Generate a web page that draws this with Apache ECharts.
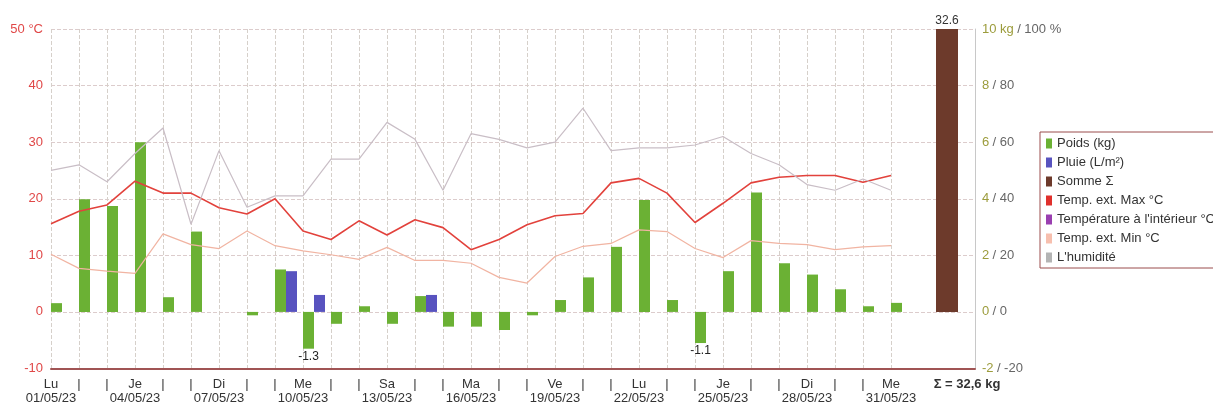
<!DOCTYPE html>
<html>
<head>
<meta charset="utf-8">
<script src="https://cdn.jsdelivr.net/npm/echarts@6/dist/echarts.min.js"></script>
<style>
html, body {margin:0; padding:0; background:#fff;}
#chart {width:1213px; height:405px;}
</style>
</head>
<body>
<div id="chart"></div>
<script>
var dates = ['01/05/23','02/05/23','03/05/23','04/05/23','05/05/23','06/05/23','07/05/23','08/05/23',
    '09/05/23','10/05/23','11/05/23','12/05/23','13/05/23','14/05/23','15/05/23','16/05/23',
    '17/05/23','18/05/23','19/05/23','20/05/23','21/05/23','22/05/23','23/05/23','24/05/23',
    '25/05/23','26/05/23','27/05/23','28/05/23','29/05/23','30/05/23','31/05/23'];
var jours = ['Lu','Ma','Me','Je','Ve','Sa','Di'];

// kg
var poids = [0.31, 3.98, 3.74, 6.0, 0.52, 2.84, 0, -0.12, 1.5, -1.3, -0.42, 0.2, -0.42, 0.56, -0.52, -0.52,
    -0.64, -0.12, 0.42, 1.22, 2.3, 3.96, 0.42, -1.1, 1.44, 4.22, 1.72, 1.32, 0.8, 0.2, 0.32];
var pluie = [null, null, null, null, null, null, null, null, 1.44, 0.6, null, null, null, 0.6, null, null,
    null, null, null, null, null, null, null, null, null, null, null, null, null, null, null];
var somme = 32.6;
// °C
var tempMax = [15.6, 17.8, 18.9, 23.1, 21.0, 21.0, 18.4, 17.3, 20.0, 14.3, 12.8, 16.1, 13.6, 16.3, 14.9, 11.0,
    12.8, 15.4, 17.0, 17.4, 22.8, 23.6, 21.0, 15.8, 19.2, 22.8, 23.8, 24.1, 24.1, 22.9, 24.1];
var tempMin = [10.2, 7.7, 7.2, 6.8, 13.8, 11.9, 11.2, 14.3, 11.7, 10.8, 10.1, 9.3, 11.4, 9.1, 9.1, 8.6,
    6.1, 5.1, 9.8, 11.6, 12.1, 14.5, 14.2, 11.2, 9.6, 12.6, 12.1, 11.9, 11.0, 11.5, 11.7];
var tempInt = [];
// %
var humidite = [50, 52, 46, 56, 65, 31, 57, 37, 41, 41, 54, 54, 67, 61, 43, 63,
    61, 58, 60, 72, 57, 58, 58, 59, 62, 56, 52, 45, 43, 47, 43];

var categories = dates.concat(['', 'S', '']);
var kgMax = 10;
var sommeData = categories.map(function (c) { return c === 'S' ? Math.min(somme, kgMax) : null; });
var sommeTxt = String(somme).replace('.', ',');

var font = 'Liberation Sans, Arial, sans-serif';
var chart = echarts.init(document.getElementById('chart'));

var option = {
    animation: false,
    textStyle: {fontFamily: font},
    grid: {left: 51, right: 238, top: 29, bottom: 31},
    legend: {
        orient: 'vertical',
        left: 1040,
        top: 132,
        icon: 'rect',
        itemWidth: 6,
        itemHeight: 10,
        itemGap: 6,
        padding: [5, 40, 4, 6],
        borderColor: '#9a4c4c',
        borderWidth: 1,
        selectedMode: false,
        textStyle: {fontSize: 13, color: '#333', fontFamily: font},
        data: ['Poids (kg)', 'Pluie (L/m²)', 'Somme Σ', 'Temp. ext. Max °C',
            'Température à l\'intérieur °C', 'Temp. ext. Min °C', 'L\'humidité']
    },
    xAxis: [{
        type: 'category',
        data: categories,
        boundaryGap: false,
        axisLine: {onZero: false, lineStyle: {color: '#a05454', width: 2}},
        axisTick: {show: false},
        splitLine: {
            show: true,
            interval: function (i) { return i <= 30; },
            lineStyle: {color: '#d6d0ca', type: 'dashed'}
        },
        axisLabel: {
            interval: 0,
            margin: 9,
            color: '#333',
            formatter: function (v, i) {
                if (i < 31) {
                    return i % 3 === 0 ? '{j|' + jours[i % 7] + '}\n{j|' + v + '}' : '{j||}';
                }
                if (v === 'S') return '{s|Σ = ' + sommeTxt + ' kg}';
                return '';
            },
            rich: {
                j: {fontSize: 13, lineHeight: 14, color: '#333', fontFamily: font},
                s: {fontSize: 13, lineHeight: 14, fontWeight: 'bold', color: '#333', padding: [0, 0, 0, 40], fontFamily: font}
            }
        }
    }, {
        type: 'category',
        data: categories,
        boundaryGap: false,
        show: false
    }],
    yAxis: [{
        type: 'value',
        position: 'left',
        min: -10,
        max: 50,
        interval: 10,
        axisLine: {show: false},
        axisTick: {show: false},
        axisLabel: {
            color: '#e04848',
            fontSize: 13,
            margin: 8,
            formatter: function (v) { return v === 50 ? '50 °C' : v; }
        },
        splitLine: {lineStyle: {color: '#dccccc', type: 'dashed'}}
    }, {
        type: 'value',
        position: 'right',
        min: -2,
        max: kgMax,
        interval: 2,
        axisLine: {show: true, lineStyle: {color: '#c8c8c8'}},
        axisTick: {show: false},
        splitLine: {show: false},
        axisLabel: {
            margin: 7,
            formatter: function (v) {
                return v === kgMax ? '{k|' + v + ' kg} {p|/ ' + v * 10 + ' %}' : '{k|' + v + '} {p|/ ' + v * 10 + '}';
            },
            rich: {
                k: {color: '#9c9c3c', fontSize: 13, fontFamily: font},
                p: {color: '#666', fontSize: 13, fontFamily: font}
            }
        }
    }, {
        type: 'value',
        show: false,
        min: -20,
        max: 100,
        interval: 20
    }],
    series: [
        {name: 'pad1', type: 'bar', yAxisIndex: 1, data: [], barWidth: 11, barGap: '0%'},
        {name: 'pad2', type: 'bar', yAxisIndex: 1, data: [], barWidth: 11, barGap: '0%'},
        {
            name: 'Poids (kg)', type: 'bar', yAxisIndex: 1, data: poids, barWidth: 11, barGap: '0%',
            itemStyle: {color: '#6bb134'},
            label: {
                show: true, position: 'bottom', distance: 2, color: '#222', fontSize: 12,
                formatter: function (p) { return p.value < -1 ? String(p.value) : ''; }
            }
        },
        {
            name: 'Pluie (L/m²)', type: 'bar', yAxisIndex: 1, data: pluie, barWidth: 11, barGap: '0%',
            itemStyle: {color: '#5853bf'}
        },
        {
            name: 'Somme Σ', type: 'bar', xAxisIndex: 1, yAxisIndex: 1, data: sommeData, barWidth: 22,
            itemStyle: {color: '#6d3a2b'},
            label: {
                show: true, position: 'top', distance: 2, color: '#333', fontSize: 12,
                formatter: function () { return String(somme); }
            }
        },
        {
            name: 'Temp. ext. Max °C', type: 'line', yAxisIndex: 0, data: tempMax, showSymbol: false,
            itemStyle: {color: '#e0302c'}, lineStyle: {color: '#e2423c', width: 1.6}
        },
        {
            name: 'Température à l\'intérieur °C', type: 'line', yAxisIndex: 0, data: tempInt, showSymbol: false,
            itemStyle: {color: '#9a3fb0'}, lineStyle: {color: '#9a3fb0', width: 1.2}
        },
        {
            name: 'Temp. ext. Min °C', type: 'line', yAxisIndex: 0, data: tempMin, showSymbol: false,
            itemStyle: {color: '#f7bfae'}, lineStyle: {color: '#f1b4a2', width: 1.2}
        },
        {
            name: 'L\'humidité', type: 'line', yAxisIndex: 2, data: humidite, showSymbol: false,
            itemStyle: {color: '#b4b4b4'}, lineStyle: {color: '#c9bec6', width: 1.2}
        }
    ]
};
chart.setOption(option);
</script>
</body>
</html>
